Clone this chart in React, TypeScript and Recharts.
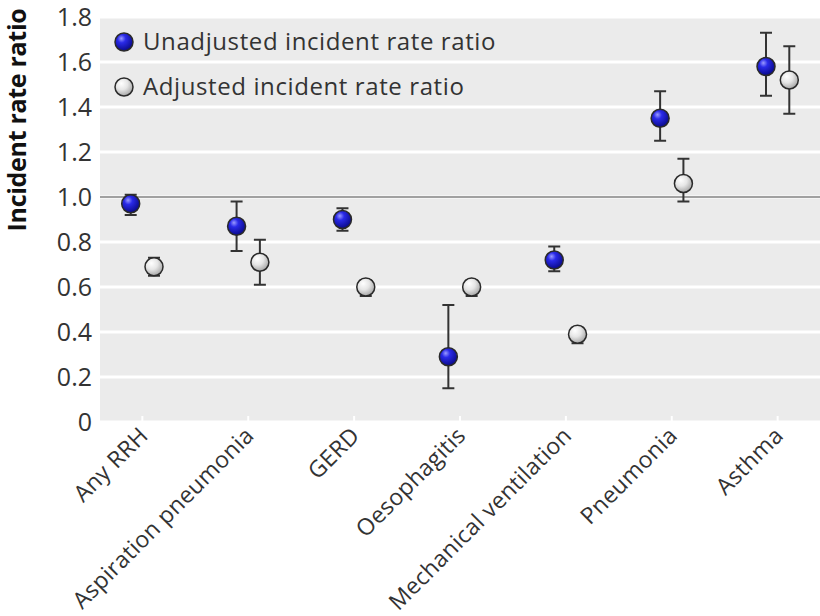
import { ScatterChart, Scatter, XAxis, YAxis, CartesianGrid, ErrorBar, ReferenceLine, Legend } from 'recharts'

const categories = ['Any RRH', 'Aspiration pneumonia', 'GERD', 'Oesophagitis', 'Mechanical ventilation', 'Pneumonia', 'Asthma']

const unadjusted = [0.97, 0.87, 0.9, 0.29, 0.72, 1.35, 1.58]
const unadjLower = [0.92, 0.76, 0.85, 0.15, 0.67, 1.25, 1.45]
const unadjUpper = [1.01, 0.98, 0.95, 0.52, 0.78, 1.47, 1.73]

const adjusted = [0.69, 0.71, 0.6, 0.6, 0.39, 1.06, 1.52]
const adjLower = [0.65, 0.61, 0.56, 0.56, 0.35, 0.98, 1.37]
const adjUpper = [0.73, 0.81, 0.63, 0.63, 0.42, 1.17, 1.67]

const yTicks = [0, 0.2, 0.4, 0.6, 0.8, 1.0, 1.2, 1.4, 1.6, 1.8]

const FONT = '"Open Sans", sans-serif'
const DODGE = 0.11

const unadjData = unadjusted.map((v, i) => ({ x: i - DODGE, y: v, err: [v - unadjLower[i], unadjUpper[i] - v] }))
const adjData = adjusted.map((v, i) => ({ x: i + DODGE, y: v, err: [v - adjLower[i], adjUpper[i] - v] }))

const Dot = ({ cx, cy, grad }: any) => (
  <circle cx={cx} cy={cy} r={9} fill={`url(#${grad})`} stroke="#2a2a2a" strokeWidth={1.5} />
)

const XTick = ({ x, y, payload }: any) => (
  <g>
    <line x1={x} x2={x} y1={y - 6} y2={y} stroke="#fff" strokeWidth={2} />
    <text
      x={x + 7} y={y + 15}
      textAnchor="end"
      transform={`rotate(-45 ${x + 7} ${y + 15})`}
      fontSize={23} fill="#333" fontFamily={FONT} letterSpacing={0.3}
    >
      {categories[payload.value]}
    </text>
  </g>
)

const LegendBox = () => (
  <svg width={440} height={80} style={{ overflow: 'visible' }}>
    <circle cx={14} cy={16} r={9} fill="url(#gBlue)" stroke="#2a2a2a" strokeWidth={1.5} />
    <text x={33} y={24} fontSize={24} fill="#333" fontFamily={FONT} letterSpacing={0.6}>Unadjusted incident rate ratio</text>
    <circle cx={14} cy={61} r={9} fill="url(#gWhite)" stroke="#2a2a2a" strokeWidth={1.5} />
    <text x={33} y={69} fontSize={24} fill="#333" fontFamily={FONT} letterSpacing={0.6}>Adjusted incident rate ratio</text>
  </svg>
)

export default function App() {
  return (
    <div style={{ position: 'absolute', left: 0, top: 0, width: 820, height: 616, background: '#fff' }}>
      <svg width={0} height={0} style={{ position: 'absolute' }}>
        <defs>
          <radialGradient id="gBlue" cx="0.4" cy="0.35" r="0.65" fx="0.35" fy="0.3">
            <stop offset="0%" stopColor="#9a9aff" />
            <stop offset="35%" stopColor="#2a2ae8" />
            <stop offset="100%" stopColor="#0a0a8a" />
          </radialGradient>
          <radialGradient id="gWhite" cx="0.4" cy="0.35" r="0.65" fx="0.35" fy="0.3">
            <stop offset="0%" stopColor="#ffffff" />
            <stop offset="50%" stopColor="#e6e6e6" />
            <stop offset="100%" stopColor="#a8a8a8" />
          </radialGradient>
        </defs>
      </svg>
      <ScatterChart width={820} height={616} margin={{ top: 17, right: 0, bottom: 0, left: 0 }}>
        <CartesianGrid vertical={false} fill="#ebebeb" stroke="#fff" strokeWidth={3} />
        <XAxis
          type="number" dataKey="x" domain={[-0.4, 6.4]} ticks={[0, 1, 2, 3, 4, 5, 6]}
          interval={0} height={194} axisLine={false} tickLine={false} tickSize={0} tickMargin={0}
          tick={<XTick />} allowDataOverflow
        />
        <YAxis
          type="number" dataKey="y" domain={[0, 1.8]} ticks={yTicks} interval={0} width={100}
          axisLine={false} tickLine={false} tickSize={0} tickMargin={8}
          tickFormatter={(v: number) => (v === 0 ? '0' : v.toFixed(1))}
          tick={{ fontSize: 25, fill: '#333', fontFamily: FONT }}
          label={{
            content: () => (
              <text x={26} y={120} transform="rotate(-90 26 120)" textAnchor="middle"
                fontSize={25} fontWeight={700} fill="#111" fontFamily={FONT} letterSpacing={-0.3}>
                Incident rate ratio
              </text>
            ),
          }}
        />
        <ReferenceLine y={1} stroke="#444" strokeWidth={1.2} />
        <Scatter data={unadjData} isAnimationActive={false} shape={(p: any) => <Dot {...p} grad="gBlue" />}>
          <ErrorBar dataKey="err" direction="y" width={6} stroke="#333" strokeWidth={2} />
        </Scatter>
        <Scatter data={adjData} isAnimationActive={false} shape={(p: any) => <Dot {...p} grad="gWhite" />}>
          <ErrorBar dataKey="err" direction="y" width={6} stroke="#333" strokeWidth={2} />
        </Scatter>
        <Legend
          layout="horizontal" verticalAlign="middle" align="center"
          wrapperStyle={{ left: 110, top: 26, width: 440, height: 80 }}
          content={() => <LegendBox />}
        />
      </ScatterChart>
    </div>
  )
}
